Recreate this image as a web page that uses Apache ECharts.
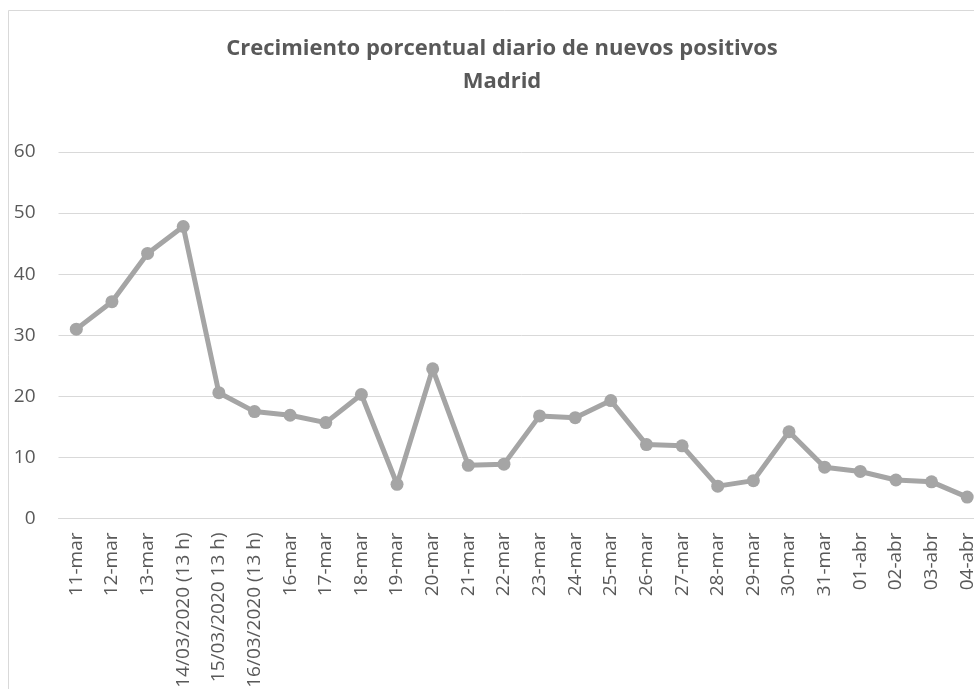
<!DOCTYPE html>
<html>
<head>
<meta charset="utf-8">
<script src="https://cdn.jsdelivr.net/npm/echarts@6/dist/echarts.min.js"></script>
<style>
  html, body { margin: 0; padding: 0; background: #fff; overflow: hidden; }
  #chart { width: 1000px; height: 700px; }
</style>
</head>
<body>
<div id="chart"></div>
<script>
// categorias del eje X (fechas tal cual aparecen en la hoja)
const categories = [
  '11-mar', '12-mar', '13-mar',
  '14/03/2020 (13 h)', '15/03/2020 13 h)', '16/03/2020 (13 h)',
  '16-mar', '17-mar', '18-mar', '19-mar', '20-mar', '21-mar', '22-mar',
  '23-mar', '24-mar', '25-mar', '26-mar', '27-mar', '28-mar', '29-mar',
  '30-mar', '31-mar', '01-abr', '02-abr', '03-abr', '04-abr'
]

// crecimiento porcentual diario (%)
const crecimiento = [
  31.0, 35.5, 43.4, 47.8, 20.6, 17.5, 16.9, 15.7, 20.3, 5.6, 24.5, 8.7, 8.9,
  16.8, 16.5, 19.3, 12.1, 11.9, 5.3, 6.2, 14.2, 8.4, 7.7, 6.3, 6.0, 3.5
]

const yTicks = { min: 0, max: 60, interval: 10 }

const titleLines = ['Crecimiento porcentual diario de nuevos positivos', 'Madrid']

const textColor = '#595959'
const gridColor = '#d9d9d9'
const lineColor = '#a5a5a5'
const font = 'Open Sans'

const myChart = echarts.init(document.getElementById('chart'), null, { renderer: 'canvas' })

const option = {
  animation: false,
  backgroundColor: '#fff',
  graphic: [{
    type: 'rect',
    z: -10,
    shape: { x: 8.5, y: 10.5, width: 1100, height: 1000 },
    style: { fill: 'none', stroke: gridColor, lineWidth: 1 }
  }],
  title: {
    text: titleLines.join('\n'),
    left: 497,
    textAlign: 'center',
    top: 27,
    textStyle: {
      fontFamily: font,
      fontSize: 22,
      fontWeight: 'bold',
      color: textColor,
      lineHeight: 33
    }
  },
  grid: {
    left: 58.5,
    right: 15,
    top: 152,
    bottom: 181.5,
    containLabel: false,
    outerBoundsMode: 'none'
  },
  xAxis: {
    type: 'category',
    data: categories,
    boundaryGap: true,
    axisLine: { show: true, lineStyle: { color: gridColor, width: 1 } },
    axisTick: { show: false },
    axisLabel: {
      rotate: 90,
      interval: 0,
      margin: 14,
      color: textColor,
      fontFamily: font,
      fontSize: 19
    }
  },
  yAxis: {
    type: 'value',
    min: yTicks.min,
    max: yTicks.max,
    interval: yTicks.interval,
    axisLine: { show: false },
    axisTick: { show: false },
    splitLine: { lineStyle: { color: gridColor, width: 1 } },
    axisLabel: {
      margin: 23,
      color: textColor,
      fontFamily: font,
      fontSize: 19
    }
  },
  series: [{
    type: 'line',
    data: crecimiento,
    symbol: 'circle',
    symbolSize: 13,
    itemStyle: { color: lineColor },
    lineStyle: { color: lineColor, width: 5 }
  }]
}

myChart.setOption(option)
</script>
</body>
</html>
